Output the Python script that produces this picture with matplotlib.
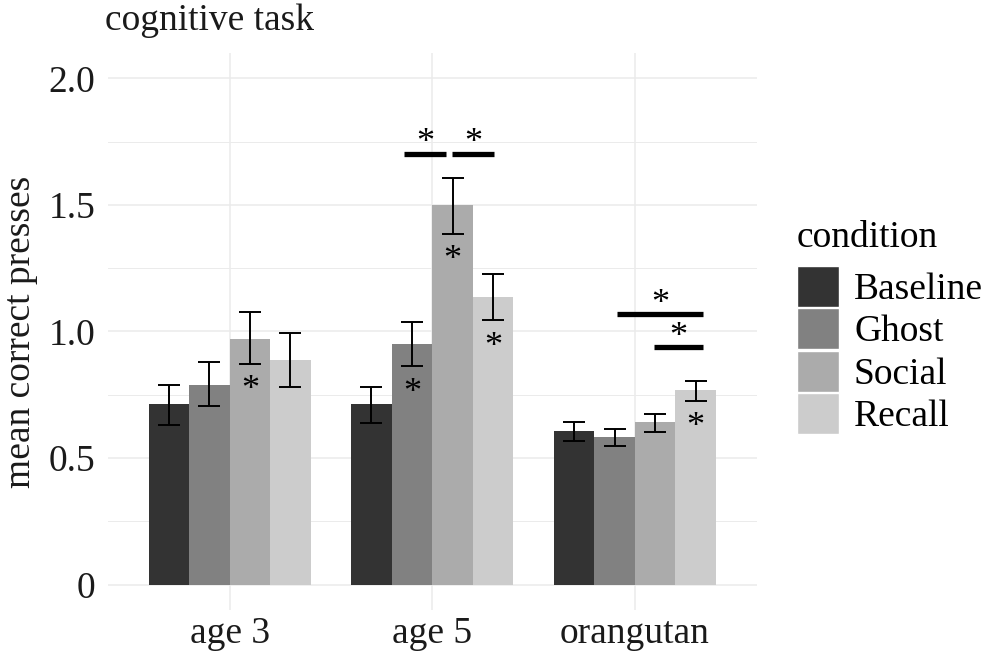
import numpy as np
import matplotlib.pyplot as plt
from matplotlib.patches import Patch
from matplotlib.transforms import offset_copy

plt.rcParams['font.family'] = ['Liberation Serif', 'DejaVu Serif']

# data
groups = ["age 3", "age 5", "orangutan"]
conditions = ["Baseline", "Ghost", "Social", "Recall"]
colors = ["#333333", "#818181", "#ababab", "#cccccc"]

means = {
    "Baseline": [0.714, 0.714, 0.607],
    "Ghost":    [0.789, 0.949, 0.585],
    "Social":   [0.970, 1.499, 0.644],
    "Recall":   [0.888, 1.137, 0.767],
}
upper = {
    "Baseline": [0.788, 0.781, 0.644],
    "Ghost":    [0.880, 1.039, 0.614],
    "Social":   [1.076, 1.606, 0.675],
    "Recall":   [0.993, 1.227, 0.805],
}
lower = {
    "Baseline": [0.629, 0.638, 0.568],
    "Ghost":    [0.705, 0.864, 0.546],
    "Social":   [0.873, 1.386, 0.605],
    "Recall":   [0.780, 1.045, 0.727],
}
# asterisk below the error bar (condition, group index)
stars_below = [("Social", 0), ("Ghost", 1), ("Social", 1), ("Recall", 1), ("Recall", 2)]
# comparison bars: (x start, x end, y)
sig_bars = [(1.862, 2.068, 1.703), (2.097, 2.306, 1.703),
            (2.913, 3.337, 1.069), (3.094, 3.337, 0.940)]

FS = 27
bar_w = 0.2

fig = plt.figure(figsize=(9.83, 6.56), dpi=100)
ax = fig.add_axes([108 / 983, 46 / 656, 648.5 / 983, 557 / 656])

x = np.arange(1, len(groups) + 1)
for i, cond in enumerate(conditions):
    xs = x + (i - 1.5) * bar_w
    m = np.array(means[cond])
    ax.bar(xs, m, width=bar_w, color=colors[i], zorder=2)
    err = [m - np.array(lower[cond]), np.array(upper[cond]) - m]
    ax.errorbar(xs, m, yerr=err, fmt='none', ecolor='black', elinewidth=1.4,
                capsize=7.6, capthick=1.4, zorder=3)

star_tf = offset_copy(ax.transData, fig=fig, x=0, y=-12, units='points')
for cond, g in stars_below:
    i = conditions.index(cond)
    xs = x[g] + (i - 1.5) * bar_w
    ax.text(xs, lower[cond][g] - 0.075, "*", ha='center', va='baseline',
            fontsize=FS - 1, transform=star_tf, zorder=4)

for x0, x1, y in sig_bars:
    ax.plot([x0, x1], [y, y], color='black', lw=3.8, solid_capstyle='butt', zorder=4)
    ax.text((x0 + x1) / 2, y + 0.07, "*", ha='center', va='baseline',
            fontsize=FS - 1, transform=star_tf, zorder=4)

ax.set_xlim(0.4, 3.6)
ax.set_ylim(-0.1, 2.1)
ax.set_xticks(x)
ax.set_xticklabels(groups)
ax.set_yticks([0, 0.5, 1.0, 1.5, 2.0])
ax.set_yticklabels(["0", "0.5", "1.0", "1.5", "2.0"])
ax.set_yticks([0.25, 0.75, 1.25, 1.75], minor=True)
ax.tick_params(axis='both', which='both', length=0, labelsize=FS, colors='#1a1a1a')
ax.tick_params(axis='y', pad=9)
ax.tick_params(axis='x', pad=5)
ax.grid(True, which='major', color='#ebebeb', lw=1.1, zorder=0)
ax.grid(True, which='minor', axis='y', color='#ebebeb', lw=0.7, zorder=0)
ax.set_axisbelow(True)
for s in ax.spines.values():
    s.set_visible(False)

ax.set_ylabel("mean correct presses", fontsize=FS, color='#1a1a1a', labelpad=8)
fig.text(105 / 983, 1 - 30 / 656, "cognitive task", fontsize=FS, ha='left',
         va='baseline', color='#1a1a1a')

handles = [Patch(facecolor=c, edgecolor='white', lw=1.0) for c in colors]
leg = ax.legend(handles, conditions, title="condition", loc='upper left',
                bbox_to_anchor=(797 / 983, 1 - 220 / 656), bbox_transform=fig.transFigure,
                frameon=False, fontsize=FS, title_fontsize=FS, handlelength=1.12,
                handleheight=1.32, handletextpad=0.4, labelspacing=0.03,
                borderaxespad=0, borderpad=0)
leg._legend_box.align = "left"
leg._legend_box.sep = 8

fig.savefig("out.png", dpi=100)
